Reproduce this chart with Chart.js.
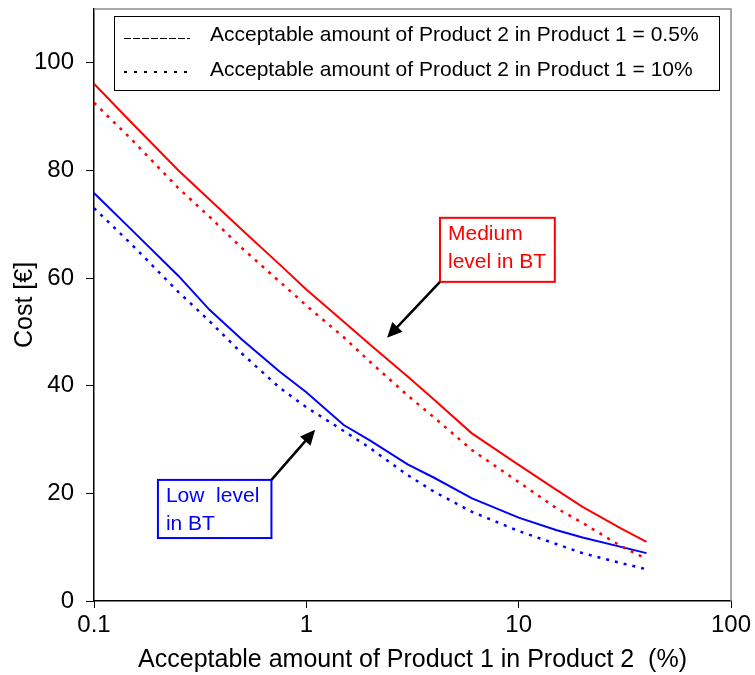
<!DOCTYPE html>
<html>
<head>
<meta charset="utf-8">
<script src="https://cdn.jsdelivr.net/npm/chart.js@4"></script>
<style>
  html, body { margin: 0; padding: 0; background: #fff; }
  #wrap { width: 755px; height: 675px; }
</style>
</head>
<body>
<div id="wrap"><canvas id="costChart" width="755" height="675"></canvas></div>
<script>
// x: acceptable amount of Product 1 in Product 2 (%)
const xValues = [0.1, 0.15, 0.25, 0.35, 0.5, 0.75, 1, 1.5, 2, 3, 4, 6, 10, 15, 20, 30, 40];
// cost [€], medium level in BT
const medium05 = [96.1, 88.9, 80.0, 74.6, 68.9, 62.5, 57.9, 51.9, 47.6, 41.7, 37.4, 31.2, 25.3, 20.7, 17.5, 13.6, 11.0];
const medium10 = [92.6, 85.8, 76.7, 71.4, 65.5, 59.3, 54.9, 49.0, 44.4, 38.2, 34.1, 28.1, 22.1, 17.3, 14.5, 10.3, 7.8];
// cost [€], low level in BT
const low05 = [75.8, 69.0, 60.4, 54.1, 48.5, 42.6, 38.8, 32.7, 29.8, 25.4, 22.9, 19.1, 15.5, 13.2, 11.8, 10.1, 8.9];
const low10 = [73.0, 66.3, 57.4, 52.0, 45.9, 39.6, 36.0, 31.6, 28.4, 23.4, 20.3, 16.6, 13.0, 10.6, 8.9, 7.1, 5.9];

const xTicks = [0.1, 1, 10, 100];
const legendLabels = [
  'Acceptable amount of Product 2 in Product 1 = 0.5%',
  'Acceptable amount of Product 2 in Product 1 = 10%'
];

const FONT = '"Liberation Sans", Arial, sans-serif';
const pts = (ys) => xValues.map((x, i) => ({ x: x, y: ys[i] }));

function arrow(ctx, x1, y1, x2, y2) {
  const a = Math.atan2(y2 - y1, x2 - x1);
  const hl = 15, hw = 7;
  ctx.save();
  ctx.strokeStyle = '#000';
  ctx.fillStyle = '#000';
  ctx.lineWidth = 2.5;
  ctx.beginPath();
  ctx.moveTo(x1, y1);
  ctx.lineTo(x2 - Math.cos(a) * hl * 0.8, y2 - Math.sin(a) * hl * 0.8);
  ctx.stroke();
  ctx.beginPath();
  ctx.moveTo(x2, y2);
  ctx.lineTo(x2 - Math.cos(a) * hl - Math.sin(a) * hw, y2 - Math.sin(a) * hl + Math.cos(a) * hw);
  ctx.lineTo(x2 - Math.cos(a) * hl + Math.sin(a) * hw, y2 - Math.sin(a) * hl - Math.cos(a) * hw);
  ctx.closePath();
  ctx.fill();
  ctx.restore();
}

const decorations = {
  id: 'decorations',
  beforeDatasetsDraw(chart) {
    const { ctx, chartArea: a } = chart;
    ctx.save();
    ctx.strokeStyle = '#8c8c8c';
    ctx.lineWidth = 1.5;
    ctx.beginPath();
    ctx.moveTo(a.left, a.top);
    ctx.lineTo(a.right, a.top);
    ctx.lineTo(a.right, a.bottom);
    ctx.stroke();
    ctx.restore();
  },
  afterDraw(chart) {
    const { ctx, chartArea: a } = chart;
    const xs = chart.scales.x, ys = chart.scales.y;

    // legend box
    ctx.save();
    const lx = Math.round(a.left + 20), ly = Math.round(a.top + 7);
    const lw = Math.round(a.right - a.left - 32), lh = 74;
    ctx.fillStyle = '#fff';
    ctx.fillRect(lx, ly, lw, lh);
    ctx.strokeStyle = '#000';
    ctx.lineWidth = 1;
    ctx.strokeRect(lx + 0.5, ly + 0.5, lw, lh);
    ctx.setLineDash([7, 2]);
    ctx.beginPath(); ctx.moveTo(lx + 10, ly + 22.5); ctx.lineTo(lx + 76, ly + 22.5); ctx.stroke();
    ctx.lineWidth = 2;
    ctx.setLineDash([3, 7]);
    ctx.beginPath(); ctx.moveTo(lx + 10, ly + 56); ctx.lineTo(lx + 76, ly + 56); ctx.stroke();
    ctx.setLineDash([]);
    ctx.fillStyle = '#000';
    ctx.font = '21px ' + FONT;
    ctx.textBaseline = 'middle';
    ctx.fillText(legendLabels[0], lx + 96, ly + 19);
    ctx.fillText(legendLabels[1], lx + 96, ly + 54);
    ctx.restore();

    // annotation boxes
    const boxes = [
      { color: '#ff0000', x0: 4.26, x1: 14.8, y0: 71.2, y1: 59.3, lines: ['Medium', 'level in BT'],
        from: [4.26, 59.3], to: [2.4, 48.9] },
      { color: '#0000ff', x0: 0.2, x1: 0.685, y0: 22.5, y1: 11.7, lines: ['Low  level', 'in BT'],
        from: [0.685, 22.5], to: [1.1, 31.8] }
    ];
    boxes.forEach(b => {
      const px0 = xs.getPixelForValue(b.x0), px1 = xs.getPixelForValue(b.x1);
      const py0 = ys.getPixelForValue(b.y0), py1 = ys.getPixelForValue(b.y1);
      ctx.save();
      ctx.fillStyle = '#fff';
      ctx.fillRect(px0, py0, px1 - px0, py1 - py0);
      ctx.strokeStyle = b.color;
      ctx.lineWidth = 2;
      ctx.strokeRect(px0, py0, px1 - px0, py1 - py0);
      ctx.fillStyle = b.color;
      ctx.font = '21px ' + FONT;
      ctx.textBaseline = 'middle';
      ctx.fillText(b.lines[0], px0 + 8, py0 + 16);
      ctx.fillText(b.lines[1], px0 + 8, py0 + 44);
      ctx.restore();
      arrow(ctx, xs.getPixelForValue(b.from[0]), ys.getPixelForValue(b.from[1]),
        xs.getPixelForValue(b.to[0]), ys.getPixelForValue(b.to[1]));
    });
  }
};

new Chart(document.getElementById('costChart').getContext('2d'), {
  type: 'line',
  data: {
    datasets: [
      { label: 'Medium 0.5%', data: pts(medium05), borderColor: '#ff0000', borderWidth: 2 },
      { label: 'Medium 10%', data: pts(medium10), borderColor: '#ff0000', borderWidth: 2.5, borderDash: [3, 6] },
      { label: 'Low 0.5%', data: pts(low05), borderColor: '#0000ff', borderWidth: 2 },
      { label: 'Low 10%', data: pts(low10), borderColor: '#0000ff', borderWidth: 2.5, borderDash: [3, 6] }
    ]
  },
  options: {
    responsive: false,
    animation: false,
    layout: { padding: { left: 0, right: 24, top: 9, bottom: 0 } },
    elements: { point: { radius: 0 }, line: { tension: 0, fill: false } },
    plugins: { legend: { display: false }, tooltip: { enabled: false } },
    scales: {
      x: {
        type: 'logarithmic',
        min: 0.1,
        max: 100,
        afterBuildTicks: (s) => { s.ticks = xTicks.map(v => ({ value: v })); },
        afterFit: (s) => { s.height = 74; s.paddingLeft = 0; s.paddingRight = 0; },
        border: { color: '#000', width: 1.5 },
        grid: { display: true, drawOnChartArea: false, drawTicks: true, tickLength: 7, color: '#000' },
        ticks: {
          color: '#000', font: { family: FONT, size: 24 }, padding: 3, maxRotation: 0,
          callback: (v) => String(v)
        },
        title: {
          display: true, text: 'Acceptable amount of Product 1 in Product 2  (%)',
          color: '#000', font: { family: FONT, size: 25 }, padding: { top: 0, bottom: 0 }
        }
      },
      y: {
        min: 0,
        max: 110,
        afterBuildTicks: (s) => { s.ticks = s.ticks.filter(t => t.value <= 100); },
        afterFit: (s) => { s.width = 94; s.paddingTop = 0; s.paddingBottom = 0; },
        border: { color: '#000', width: 1.5 },
        grid: { display: true, drawOnChartArea: false, drawTicks: true, tickLength: 8, color: '#000' },
        ticks: { stepSize: 20, color: '#000', font: { family: FONT, size: 24 }, padding: 12 },
        title: {
          display: true, text: 'Cost [€]', color: '#000',
          font: { family: FONT, size: 25 }, padding: { top: 10, bottom: 0 }
        }
      }
    }
  },
  plugins: [decorations]
});
</script>
</body>
</html>
